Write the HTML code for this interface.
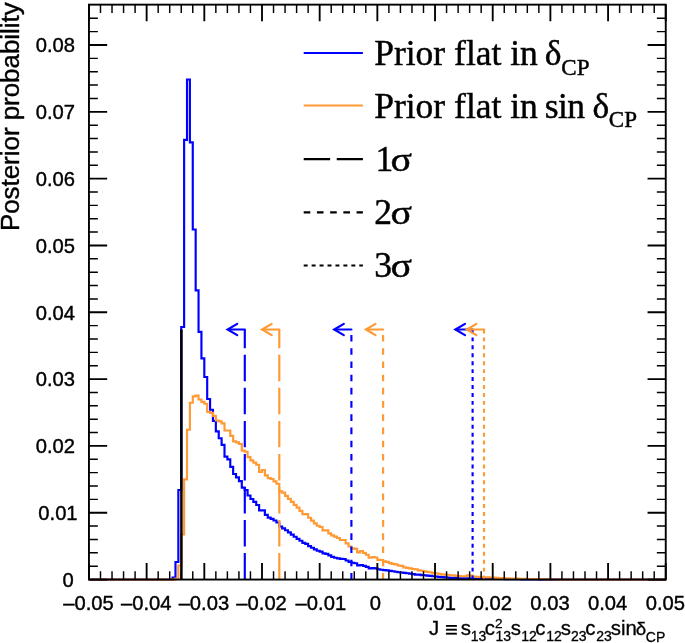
<!DOCTYPE html>
<html lang="en"><head><meta charset="utf-8"><title>Posterior probability</title>
<style>html,body{margin:0;padding:0;background:#fff}svg{display:block}</style></head>
<body>
<svg width="685" height="643" viewBox="0 0 685 643">
<rect x="0" y="0" width="685" height="643" fill="#ffffff"/>
<path d="M88.95 579.55 L88.95 579.55 L91.83 579.55 L91.83 579.55 L94.72 579.55 L94.72 579.55 L97.60 579.55 L97.60 579.55 L100.49 579.55 L100.49 579.55 L103.37 579.55 L103.37 579.55 L106.25 579.55 L106.25 579.55 L109.14 579.55 L109.14 579.55 L112.02 579.55 L112.02 579.55 L114.91 579.55 L114.91 579.55 L117.79 579.55 L117.79 579.55 L120.67 579.55 L120.67 579.55 L123.56 579.55 L123.56 579.55 L126.44 579.55 L126.44 579.55 L129.33 579.55 L129.33 579.55 L132.21 579.55 L132.21 579.55 L135.09 579.55 L135.09 579.55 L137.98 579.55 L137.98 579.55 L140.86 579.55 L140.86 579.55 L143.75 579.55 L143.75 579.55 L146.63 579.55 L146.63 579.55 L149.51 579.55 L149.51 579.55 L152.40 579.55 L152.40 579.55 L155.28 579.55 L155.28 579.55 L158.17 579.55 L158.17 579.55 L161.05 579.55 L161.05 579.55 L163.93 579.55 L163.93 579.55 L166.82 579.55 L166.82 579.55 L169.70 579.55 L169.70 579.55 L172.59 579.55 L172.59 577.50 L175.47 577.50 L175.47 562.00 L178.35 562.00 L178.35 490.00 L181.24 490.00 L181.24 327.00 L184.12 327.00 L184.12 139.80 L187.01 139.80 L187.01 79.50 L189.89 79.50 L189.89 142.40 L192.77 142.40 L192.77 229.50 L195.66 229.50 L195.66 290.30 L198.54 290.30 L198.54 331.90 L201.43 331.90 L201.43 358.30 L204.31 358.30 L204.31 377.00 L207.19 377.00 L207.19 399.00 L210.08 399.00 L210.08 409.70 L212.96 409.70 L212.96 420.90 L215.85 420.90 L215.85 431.40 L218.73 431.40 L218.73 438.20 L221.61 438.20 L221.61 444.80 L224.50 444.80 L224.50 456.60 L227.38 456.60 L227.38 459.30 L230.27 459.30 L230.27 466.90 L233.15 466.90 L233.15 474.00 L236.03 474.00 L236.03 477.30 L238.92 477.30 L238.92 481.10 L241.80 481.10 L241.80 487.60 L244.69 487.60 L244.69 490.00 L247.57 490.00 L247.57 495.50 L250.45 495.50 L250.45 499.00 L253.34 499.00 L253.34 501.80 L256.22 501.80 L256.22 505.00 L259.11 505.00 L259.11 510.30 L261.99 510.30 L261.99 510.30 L264.87 510.30 L264.87 514.80 L267.76 514.80 L267.76 517.60 L270.64 517.60 L270.64 518.80 L273.53 518.80 L273.53 520.50 L276.41 520.50 L276.41 522.50 L279.29 522.50 L279.29 526.50 L282.18 526.50 L282.18 528.30 L285.06 528.30 L285.06 530.20 L287.95 530.20 L287.95 532.40 L290.83 532.40 L290.83 534.60 L293.71 534.60 L293.71 536.70 L296.60 536.70 L296.60 538.80 L299.48 538.80 L299.48 540.70 L302.37 540.70 L302.37 542.80 L305.25 542.80 L305.25 543.80 L308.13 543.80 L308.13 546.10 L311.02 546.10 L311.02 547.70 L313.90 547.70 L313.90 549.30 L316.79 549.30 L316.79 550.70 L319.67 550.70 L319.67 551.60 L322.55 551.60 L322.55 553.40 L325.44 553.40 L325.44 553.80 L328.32 553.80 L328.32 555.40 L331.21 555.40 L331.21 556.80 L334.09 556.80 L334.09 557.70 L336.97 557.70 L336.97 558.40 L339.86 558.40 L339.86 558.90 L342.74 558.90 L342.74 559.00 L345.63 559.00 L345.63 560.50 L348.51 560.50 L348.51 561.90 L351.39 561.90 L351.39 562.70 L354.28 562.70 L354.28 563.20 L357.16 563.20 L357.16 565.40 L360.05 565.40 L360.05 565.00 L362.93 565.00 L362.93 565.90 L365.81 565.90 L365.81 566.90 L368.70 566.90 L368.70 568.30 L371.58 568.30 L371.58 568.10 L374.47 568.10 L374.47 568.30 L377.35 568.30 L377.35 569.20 L380.23 569.20 L380.23 569.70 L383.12 569.70 L383.12 570.10 L386.00 570.10 L386.00 570.40 L388.89 570.40 L388.89 570.90 L391.77 570.90 L391.77 571.20 L394.65 571.20 L394.65 571.70 L397.54 571.70 L397.54 572.20 L400.42 572.20 L400.42 572.50 L403.31 572.50 L403.31 572.90 L406.19 572.90 L406.19 573.20 L409.07 573.20 L409.07 573.60 L411.96 573.60 L411.96 574.06 L414.84 574.06 L414.84 574.63 L417.73 574.63 L417.73 574.60 L420.61 574.60 L420.61 575.05 L423.49 575.05 L423.49 575.29 L426.38 575.29 L426.38 575.56 L429.26 575.56 L429.26 575.87 L432.15 575.87 L432.15 576.20 L435.03 576.20 L435.03 576.50 L437.91 576.50 L437.91 576.83 L440.80 576.83 L440.80 577.09 L443.68 577.09 L443.68 577.38 L446.57 577.38 L446.57 577.48 L449.45 577.48 L449.45 577.81 L452.33 577.81 L452.33 577.84 L455.22 577.84 L455.22 578.10 L458.10 578.10 L458.10 578.22 L460.99 578.22 L460.99 578.33 L463.87 578.33 L463.87 578.32 L466.75 578.32 L466.75 578.37 L469.64 578.37 L469.64 578.49 L472.52 578.49 L472.52 578.55 L475.41 578.55 L475.41 578.53 L478.29 578.53 L478.29 578.61 L481.17 578.61 L481.17 578.67 L484.06 578.67 L484.06 578.72 L486.94 578.72 L486.94 578.70 L489.83 578.70 L489.83 578.74 L492.71 578.74 L492.71 578.80 L495.59 578.80 L495.59 578.90 L498.48 578.90 L498.48 578.90 L501.36 578.90 L501.36 578.97 L504.25 578.97 L504.25 579.05 L507.13 579.05 L507.13 579.08 L510.01 579.08 L510.01 579.13 L512.90 579.13 L512.90 579.17 L515.78 579.17 L515.78 579.23 L518.67 579.23 L518.67 579.28 L521.55 579.28 L521.55 579.31 L524.43 579.31 L524.43 579.37 L527.32 579.37 L527.32 579.41 L530.20 579.41 L530.20 579.45 L533.09 579.45 L533.09 579.49 L535.97 579.49 L535.97 579.53 L538.85 579.53 L538.85 579.55 L541.74 579.55 L541.74 579.55 L544.62 579.55 L544.62 579.55 L547.51 579.55 L547.51 579.55 L550.39 579.55 L550.39 579.55 L553.27 579.55 L553.27 579.55 L556.16 579.55 L556.16 579.55 L559.04 579.55 L559.04 579.55 L561.93 579.55 L561.93 579.55 L564.81 579.55 L564.81 579.55 L567.69 579.55 L567.69 579.55 L570.58 579.55 L570.58 579.55 L573.46 579.55 L573.46 579.55 L576.35 579.55 L576.35 579.55 L579.23 579.55 L579.23 579.55 L582.11 579.55 L582.11 579.55 L585.00 579.55 L585.00 579.55 L587.88 579.55 L587.88 579.55 L590.77 579.55 L590.77 579.55 L593.65 579.55 L593.65 579.55 L596.53 579.55 L596.53 579.55 L599.42 579.55 L599.42 579.55 L602.30 579.55 L602.30 579.55 L605.19 579.55 L605.19 579.55 L608.07 579.55 L608.07 579.55 L610.95 579.55 L610.95 579.55 L613.84 579.55 L613.84 579.55 L616.72 579.55 L616.72 579.55 L619.61 579.55 L619.61 579.55 L622.49 579.55 L622.49 579.55 L625.37 579.55 L625.37 579.55 L628.26 579.55 L628.26 579.55 L631.14 579.55 L631.14 579.55 L634.03 579.55 L634.03 579.55 L636.91 579.55 L636.91 579.55 L639.79 579.55 L639.79 579.55 L642.68 579.55 L642.68 579.55 L645.56 579.55 L645.56 579.55 L648.45 579.55 L648.45 579.55 L651.33 579.55 L651.33 579.55 L654.21 579.55 L654.21 579.55 L657.10 579.55 L657.10 579.55 L659.98 579.55 L659.98 579.55 L662.87 579.55 L662.87 579.55 L665.75 579.55" fill="none" stroke="#0000ff" stroke-width="2.15" stroke-linejoin="miter"/>
<path d="M88.95 579.55 L88.95 579.55 L91.83 579.55 L91.83 579.55 L94.72 579.55 L94.72 579.55 L97.60 579.55 L97.60 579.55 L100.49 579.55 L100.49 579.55 L103.37 579.55 L103.37 579.55 L106.25 579.55 L106.25 579.55 L109.14 579.55 L109.14 579.55 L112.02 579.55 L112.02 579.55 L114.91 579.55 L114.91 579.55 L117.79 579.55 L117.79 579.55 L120.67 579.55 L120.67 579.55 L123.56 579.55 L123.56 579.55 L126.44 579.55 L126.44 579.55 L129.33 579.55 L129.33 579.55 L132.21 579.55 L132.21 579.55 L135.09 579.55 L135.09 579.55 L137.98 579.55 L137.98 579.55 L140.86 579.55 L140.86 579.55 L143.75 579.55 L143.75 579.55 L146.63 579.55 L146.63 579.55 L149.51 579.55 L149.51 579.55 L152.40 579.55 L152.40 579.55 L155.28 579.55 L155.28 579.55 L158.17 579.55 L158.17 579.55 L161.05 579.55 L161.05 579.55 L163.93 579.55 L163.93 579.55 L166.82 579.55 L166.82 579.55 L169.70 579.55 L169.70 579.55 L172.59 579.55 L172.59 579.55 L175.47 579.55 L175.47 578.50 L178.35 578.50 L178.35 565.50 L181.24 565.50 L181.24 534.40 L184.12 534.40 L184.12 479.40 L187.01 479.40 L187.01 429.70 L189.89 429.70 L189.89 402.70 L192.77 402.70 L192.77 396.30 L195.66 396.30 L195.66 395.50 L198.54 395.50 L198.54 399.50 L201.43 399.50 L201.43 401.80 L204.31 401.80 L204.31 403.70 L207.19 403.70 L207.19 412.00 L210.08 412.00 L210.08 412.80 L212.96 412.80 L212.96 415.80 L215.85 415.80 L215.85 420.50 L218.73 420.50 L218.73 421.30 L221.61 421.30 L221.61 423.30 L224.50 423.30 L224.50 430.50 L227.38 430.50 L227.38 430.50 L230.27 430.50 L230.27 435.80 L233.15 435.80 L233.15 441.40 L236.03 441.40 L236.03 442.40 L238.92 442.40 L238.92 444.00 L241.80 444.00 L241.80 450.60 L244.69 450.60 L244.69 451.70 L247.57 451.70 L247.57 457.10 L250.45 457.10 L250.45 460.40 L253.34 460.40 L253.34 462.60 L256.22 462.60 L256.22 464.70 L259.11 464.70 L259.11 471.80 L261.99 471.80 L261.99 470.00 L264.87 470.00 L264.87 475.30 L267.76 475.30 L267.76 478.10 L270.64 478.10 L270.64 479.00 L273.53 479.00 L273.53 481.40 L276.41 481.40 L276.41 483.70 L279.29 483.70 L279.29 491.40 L282.18 491.40 L282.18 492.60 L285.06 492.60 L285.06 495.90 L287.95 495.90 L287.95 498.80 L290.83 498.80 L290.83 501.90 L293.71 501.90 L293.71 504.80 L296.60 504.80 L296.60 507.60 L299.48 507.60 L299.48 510.80 L302.37 510.80 L302.37 514.10 L305.25 514.10 L305.25 514.10 L308.13 514.10 L308.13 517.70 L311.02 517.70 L311.02 520.60 L313.90 520.60 L313.90 523.30 L316.79 523.30 L316.79 525.70 L319.67 525.70 L319.67 527.00 L322.55 527.00 L322.55 530.40 L325.44 530.40 L325.44 530.40 L328.32 530.40 L328.32 533.30 L331.21 533.30 L331.21 535.30 L334.09 535.30 L334.09 536.60 L336.97 536.60 L336.97 538.00 L339.86 538.00 L339.86 540.00 L342.74 540.00 L342.74 540.00 L345.63 540.00 L345.63 543.30 L348.51 543.30 L348.51 546.50 L351.39 546.50 L351.39 548.40 L354.28 548.40 L354.28 548.80 L357.16 548.80 L357.16 552.40 L360.05 552.40 L360.05 551.00 L362.93 551.00 L362.93 552.90 L365.81 552.90 L365.81 554.70 L368.70 554.70 L368.70 557.70 L371.58 557.70 L371.58 557.10 L374.47 557.10 L374.47 557.50 L377.35 557.50 L377.35 559.90 L380.23 559.90 L380.23 560.00 L383.12 560.00 L383.12 561.30 L386.00 561.30 L386.00 561.90 L388.89 561.90 L388.89 563.10 L391.77 563.10 L391.77 563.80 L394.65 563.80 L394.65 564.30 L397.54 564.30 L397.54 565.50 L400.42 565.50 L400.42 565.90 L403.31 565.90 L403.31 567.30 L406.19 567.30 L406.19 567.80 L409.07 567.80 L409.07 568.40 L411.96 568.40 L411.96 569.03 L414.84 569.03 L414.84 569.21 L417.73 569.21 L417.73 570.30 L420.61 570.30 L420.61 570.76 L423.49 570.76 L423.49 571.32 L426.38 571.32 L426.38 571.80 L429.26 571.80 L429.26 572.25 L432.15 572.25 L432.15 573.07 L435.03 573.07 L435.03 573.31 L437.91 573.31 L437.91 573.72 L440.80 573.72 L440.80 574.34 L443.68 574.34 L443.68 574.62 L446.57 574.62 L446.57 574.74 L449.45 574.74 L449.45 575.22 L452.33 575.22 L452.33 575.35 L455.22 575.35 L455.22 575.85 L458.10 575.85 L458.10 576.12 L460.99 576.12 L460.99 576.26 L463.87 576.26 L463.87 576.21 L466.75 576.21 L466.75 575.43 L469.64 575.43 L469.64 575.60 L472.52 575.60 L472.52 576.47 L475.41 576.47 L475.41 576.79 L478.29 576.79 L478.29 576.83 L481.17 576.83 L481.17 576.99 L484.06 576.99 L484.06 577.27 L486.94 577.27 L486.94 577.35 L489.83 577.35 L489.83 577.49 L492.71 577.49 L492.71 577.67 L495.59 577.67 L495.59 577.83 L498.48 577.83 L498.48 577.98 L501.36 577.98 L501.36 578.07 L504.25 578.07 L504.25 578.25 L507.13 578.25 L507.13 578.35 L510.01 578.35 L510.01 578.45 L512.90 578.45 L512.90 578.54 L515.78 578.54 L515.78 578.68 L518.67 578.68 L518.67 578.76 L521.55 578.76 L521.55 578.81 L524.43 578.81 L524.43 578.91 L527.32 578.91 L527.32 578.99 L530.20 578.99 L530.20 579.03 L533.09 579.03 L533.09 579.12 L535.97 579.12 L535.97 579.16 L538.85 579.16 L538.85 579.23 L541.74 579.23 L541.74 579.29 L544.62 579.29 L544.62 579.34 L547.51 579.34 L547.51 579.41 L550.39 579.41 L550.39 579.46 L553.27 579.46 L553.27 579.52 L556.16 579.52 L556.16 579.55 L559.04 579.55 L559.04 579.55 L561.93 579.55 L561.93 579.55 L564.81 579.55 L564.81 579.55 L567.69 579.55 L567.69 579.55 L570.58 579.55 L570.58 579.55 L573.46 579.55 L573.46 579.55 L576.35 579.55 L576.35 579.55 L579.23 579.55 L579.23 579.55 L582.11 579.55 L582.11 579.55 L585.00 579.55 L585.00 579.55 L587.88 579.55 L587.88 579.55 L590.77 579.55 L590.77 579.55 L593.65 579.55 L593.65 579.55 L596.53 579.55 L596.53 579.55 L599.42 579.55 L599.42 579.55 L602.30 579.55 L602.30 579.55 L605.19 579.55 L605.19 579.55 L608.07 579.55 L608.07 579.55 L610.95 579.55 L610.95 579.55 L613.84 579.55 L613.84 579.55 L616.72 579.55 L616.72 579.55 L619.61 579.55 L619.61 579.55 L622.49 579.55 L622.49 579.55 L625.37 579.55 L625.37 579.55 L628.26 579.55 L628.26 579.55 L631.14 579.55 L631.14 579.55 L634.03 579.55 L634.03 579.55 L636.91 579.55 L636.91 579.55 L639.79 579.55 L639.79 579.55 L642.68 579.55 L642.68 579.55 L645.56 579.55 L645.56 579.55 L648.45 579.55 L648.45 579.55 L651.33 579.55 L651.33 579.55 L654.21 579.55 L654.21 579.55 L657.10 579.55 L657.10 579.55 L659.98 579.55 L659.98 579.55 L662.87 579.55 L662.87 579.55 L665.75 579.55" fill="none" stroke="#ff9933" stroke-width="2.15" stroke-linejoin="miter"/>
<line x1="181.4" y1="579.55" x2="181.4" y2="329.5" stroke="#000" stroke-width="2.5"/>
<line x1="244.8" y1="579.55" x2="244.8" y2="329.5" stroke="#0000ff" stroke-width="2.15" stroke-dasharray="26.44 6.61"/>
<line x1="351.4" y1="579.55" x2="351.4" y2="329.5" stroke="#0000ff" stroke-width="2.15" stroke-dasharray="6.61 6.61"/>
<line x1="472.6" y1="579.55" x2="472.6" y2="329.5" stroke="#0000ff" stroke-width="2.15" stroke-dasharray="3.97 3.97"/>
<line x1="279.3" y1="579.55" x2="279.3" y2="329.5" stroke="#ff9933" stroke-width="2.15" stroke-dasharray="26.44 6.61"/>
<line x1="383.1" y1="579.55" x2="383.1" y2="329.5" stroke="#ff9933" stroke-width="2.15" stroke-dasharray="6.61 6.61"/>
<line x1="484.0" y1="579.55" x2="484.0" y2="329.5" stroke="#ff9933" stroke-width="2.15" stroke-dasharray="3.97 3.97"/>
<g fill="none" stroke="#0000ff" stroke-width="2.2"><path d="M244.8 329.5 L228.6 329.5" stroke-linecap="round"/><path d="M237.2 323.9 L227.6 329.5 L237.2 335.1" stroke-linejoin="miter" stroke-miterlimit="10" stroke-linecap="round"/></g>
<g fill="none" stroke="#ff9933" stroke-width="2.2"><path d="M279.3 329.5 L263.1 329.5" stroke-linecap="round"/><path d="M271.7 323.9 L262.1 329.5 L271.7 335.1" stroke-linejoin="miter" stroke-miterlimit="10" stroke-linecap="round"/></g>
<g fill="none" stroke="#0000ff" stroke-width="2.2"><path d="M351.4 329.5 L335.2 329.5" stroke-linecap="round"/><path d="M343.8 323.9 L334.2 329.5 L343.8 335.1" stroke-linejoin="miter" stroke-miterlimit="10" stroke-linecap="round"/></g>
<g fill="none" stroke="#ff9933" stroke-width="2.2"><path d="M383.1 329.5 L366.9 329.5" stroke-linecap="round"/><path d="M375.5 323.9 L365.9 329.5 L375.5 335.1" stroke-linejoin="miter" stroke-miterlimit="10" stroke-linecap="round"/></g>
<g fill="none" stroke="#0000ff" stroke-width="2.2"><path d="M472.6 329.5 L456.4 329.5" stroke-linecap="round"/><path d="M465.0 323.9 L455.4 329.5 L465.0 335.1" stroke-linejoin="miter" stroke-miterlimit="10" stroke-linecap="round"/></g>
<g fill="none" stroke="#ff9933" stroke-width="2.2"><path d="M484.0 329.5 L467.8 329.5" stroke-linecap="round"/><path d="M476.4 323.9 L466.8 329.5 L476.4 335.1" stroke-linejoin="miter" stroke-miterlimit="10" stroke-linecap="round"/></g>
<g stroke="#000" fill="none">
<path d="M88.95 579.55 V562.95 M88.95 4.65 V21.25" stroke-width="1.85"/><path d="M100.49 579.55 V571.25 M100.49 4.65 V12.95" stroke-width="1.45"/><path d="M112.02 579.55 V571.25 M112.02 4.65 V12.95" stroke-width="1.45"/><path d="M123.56 579.55 V571.25 M123.56 4.65 V12.95" stroke-width="1.45"/><path d="M135.09 579.55 V571.25 M135.09 4.65 V12.95" stroke-width="1.45"/><path d="M146.63 579.55 V562.95 M146.63 4.65 V21.25" stroke-width="1.85"/><path d="M158.17 579.55 V571.25 M158.17 4.65 V12.95" stroke-width="1.45"/><path d="M169.70 579.55 V571.25 M169.70 4.65 V12.95" stroke-width="1.45"/><path d="M181.24 579.55 V571.25 M181.24 4.65 V12.95" stroke-width="1.45"/><path d="M192.77 579.55 V571.25 M192.77 4.65 V12.95" stroke-width="1.45"/><path d="M204.31 579.55 V562.95 M204.31 4.65 V21.25" stroke-width="1.85"/><path d="M215.85 579.55 V571.25 M215.85 4.65 V12.95" stroke-width="1.45"/><path d="M227.38 579.55 V571.25 M227.38 4.65 V12.95" stroke-width="1.45"/><path d="M238.92 579.55 V571.25 M238.92 4.65 V12.95" stroke-width="1.45"/><path d="M250.45 579.55 V571.25 M250.45 4.65 V12.95" stroke-width="1.45"/><path d="M261.99 579.55 V562.95 M261.99 4.65 V21.25" stroke-width="1.85"/><path d="M273.53 579.55 V571.25 M273.53 4.65 V12.95" stroke-width="1.45"/><path d="M285.06 579.55 V571.25 M285.06 4.65 V12.95" stroke-width="1.45"/><path d="M296.60 579.55 V571.25 M296.60 4.65 V12.95" stroke-width="1.45"/><path d="M308.13 579.55 V571.25 M308.13 4.65 V12.95" stroke-width="1.45"/><path d="M319.67 579.55 V562.95 M319.67 4.65 V21.25" stroke-width="1.85"/><path d="M331.21 579.55 V571.25 M331.21 4.65 V12.95" stroke-width="1.45"/><path d="M342.74 579.55 V571.25 M342.74 4.65 V12.95" stroke-width="1.45"/><path d="M354.28 579.55 V571.25 M354.28 4.65 V12.95" stroke-width="1.45"/><path d="M365.81 579.55 V571.25 M365.81 4.65 V12.95" stroke-width="1.45"/><path d="M377.35 579.55 V562.95 M377.35 4.65 V21.25" stroke-width="1.85"/><path d="M388.89 579.55 V571.25 M388.89 4.65 V12.95" stroke-width="1.45"/><path d="M400.42 579.55 V571.25 M400.42 4.65 V12.95" stroke-width="1.45"/><path d="M411.96 579.55 V571.25 M411.96 4.65 V12.95" stroke-width="1.45"/><path d="M423.49 579.55 V571.25 M423.49 4.65 V12.95" stroke-width="1.45"/><path d="M435.03 579.55 V562.95 M435.03 4.65 V21.25" stroke-width="1.85"/><path d="M446.57 579.55 V571.25 M446.57 4.65 V12.95" stroke-width="1.45"/><path d="M458.10 579.55 V571.25 M458.10 4.65 V12.95" stroke-width="1.45"/><path d="M469.64 579.55 V571.25 M469.64 4.65 V12.95" stroke-width="1.45"/><path d="M481.17 579.55 V571.25 M481.17 4.65 V12.95" stroke-width="1.45"/><path d="M492.71 579.55 V562.95 M492.71 4.65 V21.25" stroke-width="1.85"/><path d="M504.25 579.55 V571.25 M504.25 4.65 V12.95" stroke-width="1.45"/><path d="M515.78 579.55 V571.25 M515.78 4.65 V12.95" stroke-width="1.45"/><path d="M527.32 579.55 V571.25 M527.32 4.65 V12.95" stroke-width="1.45"/><path d="M538.85 579.55 V571.25 M538.85 4.65 V12.95" stroke-width="1.45"/><path d="M550.39 579.55 V562.95 M550.39 4.65 V21.25" stroke-width="1.85"/><path d="M561.93 579.55 V571.25 M561.93 4.65 V12.95" stroke-width="1.45"/><path d="M573.46 579.55 V571.25 M573.46 4.65 V12.95" stroke-width="1.45"/><path d="M585.00 579.55 V571.25 M585.00 4.65 V12.95" stroke-width="1.45"/><path d="M596.53 579.55 V571.25 M596.53 4.65 V12.95" stroke-width="1.45"/><path d="M608.07 579.55 V562.95 M608.07 4.65 V21.25" stroke-width="1.85"/><path d="M619.61 579.55 V571.25 M619.61 4.65 V12.95" stroke-width="1.45"/><path d="M631.14 579.55 V571.25 M631.14 4.65 V12.95" stroke-width="1.45"/><path d="M642.68 579.55 V571.25 M642.68 4.65 V12.95" stroke-width="1.45"/><path d="M654.21 579.55 V571.25 M654.21 4.65 V12.95" stroke-width="1.45"/><path d="M665.75 579.55 V562.95 M665.75 4.65 V21.25" stroke-width="1.85"/><path d="M88.95 579.55 H107.15 M665.75 579.55 H647.55" stroke-width="1.85"/><path d="M88.95 566.19 H97.85 M665.75 566.19 H656.85" stroke-width="1.45"/><path d="M88.95 552.82 H97.85 M665.75 552.82 H656.85" stroke-width="1.45"/><path d="M88.95 539.46 H97.85 M665.75 539.46 H656.85" stroke-width="1.45"/><path d="M88.95 526.09 H97.85 M665.75 526.09 H656.85" stroke-width="1.45"/><path d="M88.95 512.73 H107.15 M665.75 512.73 H647.55" stroke-width="1.85"/><path d="M88.95 499.37 H97.85 M665.75 499.37 H656.85" stroke-width="1.45"/><path d="M88.95 486.00 H97.85 M665.75 486.00 H656.85" stroke-width="1.45"/><path d="M88.95 472.64 H97.85 M665.75 472.64 H656.85" stroke-width="1.45"/><path d="M88.95 459.27 H97.85 M665.75 459.27 H656.85" stroke-width="1.45"/><path d="M88.95 445.91 H107.15 M665.75 445.91 H647.55" stroke-width="1.85"/><path d="M88.95 432.55 H97.85 M665.75 432.55 H656.85" stroke-width="1.45"/><path d="M88.95 419.18 H97.85 M665.75 419.18 H656.85" stroke-width="1.45"/><path d="M88.95 405.82 H97.85 M665.75 405.82 H656.85" stroke-width="1.45"/><path d="M88.95 392.45 H97.85 M665.75 392.45 H656.85" stroke-width="1.45"/><path d="M88.95 379.09 H107.15 M665.75 379.09 H647.55" stroke-width="1.85"/><path d="M88.95 365.73 H97.85 M665.75 365.73 H656.85" stroke-width="1.45"/><path d="M88.95 352.36 H97.85 M665.75 352.36 H656.85" stroke-width="1.45"/><path d="M88.95 339.00 H97.85 M665.75 339.00 H656.85" stroke-width="1.45"/><path d="M88.95 325.63 H97.85 M665.75 325.63 H656.85" stroke-width="1.45"/><path d="M88.95 312.27 H107.15 M665.75 312.27 H647.55" stroke-width="1.85"/><path d="M88.95 298.91 H97.85 M665.75 298.91 H656.85" stroke-width="1.45"/><path d="M88.95 285.54 H97.85 M665.75 285.54 H656.85" stroke-width="1.45"/><path d="M88.95 272.18 H97.85 M665.75 272.18 H656.85" stroke-width="1.45"/><path d="M88.95 258.81 H97.85 M665.75 258.81 H656.85" stroke-width="1.45"/><path d="M88.95 245.45 H107.15 M665.75 245.45 H647.55" stroke-width="1.85"/><path d="M88.95 232.09 H97.85 M665.75 232.09 H656.85" stroke-width="1.45"/><path d="M88.95 218.72 H97.85 M665.75 218.72 H656.85" stroke-width="1.45"/><path d="M88.95 205.36 H97.85 M665.75 205.36 H656.85" stroke-width="1.45"/><path d="M88.95 191.99 H97.85 M665.75 191.99 H656.85" stroke-width="1.45"/><path d="M88.95 178.63 H107.15 M665.75 178.63 H647.55" stroke-width="1.85"/><path d="M88.95 165.27 H97.85 M665.75 165.27 H656.85" stroke-width="1.45"/><path d="M88.95 151.90 H97.85 M665.75 151.90 H656.85" stroke-width="1.45"/><path d="M88.95 138.54 H97.85 M665.75 138.54 H656.85" stroke-width="1.45"/><path d="M88.95 125.17 H97.85 M665.75 125.17 H656.85" stroke-width="1.45"/><path d="M88.95 111.81 H107.15 M665.75 111.81 H647.55" stroke-width="1.85"/><path d="M88.95 98.45 H97.85 M665.75 98.45 H656.85" stroke-width="1.45"/><path d="M88.95 85.08 H97.85 M665.75 85.08 H656.85" stroke-width="1.45"/><path d="M88.95 71.72 H97.85 M665.75 71.72 H656.85" stroke-width="1.45"/><path d="M88.95 58.35 H97.85 M665.75 58.35 H656.85" stroke-width="1.45"/><path d="M88.95 44.99 H107.15 M665.75 44.99 H647.55" stroke-width="1.85"/><path d="M88.95 31.63 H97.85 M665.75 31.63 H656.85" stroke-width="1.45"/><path d="M88.95 18.26 H97.85 M665.75 18.26 H656.85" stroke-width="1.45"/>
<rect x="88.95" y="4.65" width="576.80" height="574.90" stroke-width="1.9"/>
</g>
<g font-family="'Liberation Sans', sans-serif" font-size="20.2" fill="#000" stroke="#000" stroke-width="0.4">
<text x="88.55" y="610.3" text-anchor="middle">–0.05</text>
<text x="146.23" y="610.3" text-anchor="middle">–0.04</text>
<text x="203.91" y="610.3" text-anchor="middle">–0.03</text>
<text x="261.59" y="610.3" text-anchor="middle">–0.02</text>
<text x="320.87" y="610.3" text-anchor="middle">–0.01</text>
<text x="375.25" y="610.3" text-anchor="middle">0</text>
<text x="436.43" y="610.3" text-anchor="middle">0.01</text>
<text x="492.31" y="610.3" text-anchor="middle">0.02</text>
<text x="549.99" y="610.3" text-anchor="middle">0.03</text>
<text x="607.67" y="610.3" text-anchor="middle">0.04</text>
<text x="665.35" y="610.3" text-anchor="middle">0.05</text>
<text x="73.7" y="586.85" text-anchor="end">0</text>
<text x="77.6" y="520.03" text-anchor="end">0.01</text>
<text x="75.0" y="453.21" text-anchor="end">0.02</text>
<text x="75.0" y="386.39" text-anchor="end">0.03</text>
<text x="75.0" y="319.57" text-anchor="end">0.04</text>
<text x="75.0" y="252.75" text-anchor="end">0.05</text>
<text x="75.0" y="185.93" text-anchor="end">0.06</text>
<text x="75.0" y="119.11" text-anchor="end">0.07</text>
<text x="75.0" y="52.29" text-anchor="end">0.08</text>
</g>
<text transform="translate(19.4 231.1) rotate(-90)" font-family="'Liberation Sans', sans-serif" font-size="25.9" fill="#000" stroke="#000" stroke-width="0.4">Posterior probability</text>
<text font-family="'Liberation Sans', sans-serif" fill="#000" stroke="#000" stroke-width="0.3"><tspan x="429.08" y="634.9" font-size="20.4">J</tspan><tspan x="444.93" y="636.5" font-size="22">≡</tspan><tspan x="460.83" y="634.9" font-size="20.4">s</tspan><tspan x="470.63" y="641.2" font-size="14">13</tspan><tspan x="484.83" y="634.9" font-size="20.4">c</tspan><tspan x="494.92" y="627.6" font-size="13.6">2</tspan><tspan x="495.53" y="641.2" font-size="14">13</tspan><tspan x="510.83" y="634.9" font-size="20.4">s</tspan><tspan x="521.33" y="641.2" font-size="14">12</tspan><tspan x="535.23" y="634.9" font-size="20.4">c</tspan><tspan x="546.23" y="641.2" font-size="14">12</tspan><tspan x="560.73" y="634.9" font-size="20.4">s</tspan><tspan x="571.00" y="641.2" font-size="14">23</tspan><tspan x="585.13" y="634.9" font-size="20.4">c</tspan><tspan x="596.20" y="641.2" font-size="14">23</tspan><tspan x="610.83" y="634.9" font-size="20.4">sin</tspan><tspan x="635.71" y="634.9" font-size="18.8">δ</tspan><tspan x="645.79" y="642.4" font-size="14">CP</tspan></text>
<g fill="none" stroke-width="2.15">
<line x1="303.7" y1="53" x2="362.9" y2="53" stroke="#0000ff"/>
<line x1="303.7" y1="105.5" x2="362.9" y2="105.5" stroke="#ff9933"/>
<line x1="303.7" y1="159.1" x2="362.9" y2="159.1" stroke="#000" stroke-dasharray="26.44 6.61"/>
<line x1="303.7" y1="212.4" x2="362.9" y2="212.4" stroke="#000" stroke-dasharray="6.61 6.61"/>
<line x1="303.7" y1="265.5" x2="362.9" y2="265.5" stroke="#000" stroke-dasharray="3.97 3.97"/>
</g>
<g font-family="'Liberation Serif', serif" font-size="35.5" fill="#000" stroke="#000" stroke-width="0.45">
<text x="374.2" y="65">Prior flat in<tspan dx="7">δ</tspan><tspan dy="9.6" dx="-0.3" font-size="23">CP</tspan></text>
<text x="374.2" y="117.6">Prior flat in<tspan dx="-1.3" letter-spacing="-0.6"> sin</tspan><tspan dx="7.9">δ</tspan><tspan dy="9.6" dx="-0.3" font-size="23">CP</tspan></text>
<text x="375.4" y="170.6">1</text>
<text transform="translate(390.6 170.6) scale(1.19 1)" x="0" y="0" font-size="33.5">σ</text>
<text x="374.3" y="223.9">2</text>
<text transform="translate(390.6 223.9) scale(1.19 1)" x="0" y="0" font-size="33.5">σ</text>
<text x="374.3" y="277.0">3</text>
<text transform="translate(390.6 277.0) scale(1.19 1)" x="0" y="0" font-size="33.5">σ</text>
</g>
</svg>
</body></html>
